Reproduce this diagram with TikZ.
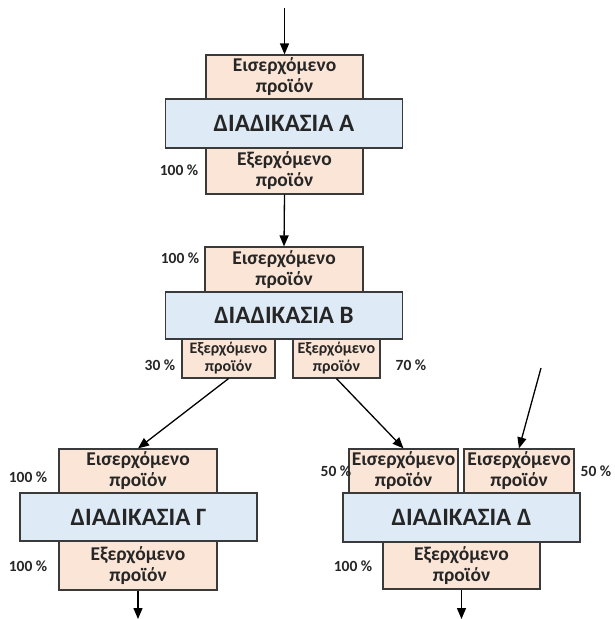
\documentclass[tikz,border=0pt]{standalone}
\usepackage{fontspec}
\setmainfont{Carlito}
\usetikzlibrary{arrows.meta}
\definecolor{peach}{HTML}{FBE5D6}
\definecolor{pale}{HTML}{DEEBF7}
\definecolor{edge}{HTML}{3A3A3A}
\begin{document}
\begin{tikzpicture}[x=1pt,y=-1pt,
  prod/.style={draw=edge,line width=1.2pt,fill=peach,inner sep=0pt,align=center,
    font=\bfseries\fontsize{19.5}{21}\selectfont,text=black!85},
  smallprod/.style={prod,font=\bfseries\fontsize{16}{18}\selectfont},
  proc/.style={draw=edge,line width=1.2pt,fill=pale,inner sep=0pt,
    minimum width=237pt,font=\bfseries\fontsize{25}{28}\selectfont,text=black!85},
  pct/.style={font=\bfseries\fontsize{15.5}{18}\selectfont,text=black!85,inner sep=0pt},
  flow/.style={line width=1.3pt,-{Triangle[length=11pt,width=9pt]}}]
\useasboundingbox (0,0) rectangle (614,619);
% Process A
\node[prod,minimum width=157pt,minimum height=44pt] (ain) at (284.5,77) {Εισερχόμενο\\προϊόν};
\node[prod,minimum width=157pt,minimum height=46pt] (aout) at (284.5,171) {Εξερχόμενο\\προϊόν};
\node[proc,minimum height=49pt] (A) at (284,123.5) {ΔΙΑΔΙΚΑΣΙΑ Α};
\node[pct] (pa) at (179,170) {100 \%};
% Process B
\node[prod,minimum width=158pt,minimum height=45pt] (bin) at (284,269.5) {Εισερχόμενο\\προϊόν};
\node[smallprod,minimum width=93pt,minimum height=39pt] (bout1) at (228.5,358.5) {Εξερχόμενο\\προϊόν};
\node[smallprod,minimum width=87pt,minimum height=39pt] (bout2) at (336.5,358.5) {Εξερχόμενο\\προϊόν};
\node[proc,minimum height=47pt] (B) at (284,315.5) {ΔΙΑΔΙΚΑΣΙΑ Β};
\node[pct] (pb) at (180,258) {100 \%};
\node[pct] (pb1) at (160,365) {30 \%};
\node[pct] (pb2) at (411,365) {70 \%};
% Process G
\node[prod,minimum width=158pt,minimum height=44pt] (gin) at (138,471) {Εισερχόμενο\\προϊόν};
\node[prod,minimum width=158pt,minimum height=49pt] (gout) at (138,565.5) {Εξερχόμενο\\προϊόν};
\node[proc,minimum height=48pt] (G) at (138.5,517) {ΔΙΑΔΙΚΑΣΙΑ Γ};
\node[pct] (pg1) at (28,477) {100 \%};
\node[pct] (pg2) at (28,566) {100 \%};
% Process D
\node[prod,minimum width=109pt,minimum height=44pt] (din1) at (403.5,471) {Εισερχόμενο\\προϊόν};
\node[prod,minimum width=110pt,minimum height=44pt] (din2) at (519,471) {Εισερχόμενο\\προϊόν};
\node[prod,minimum width=157pt,minimum height=47pt] (dout) at (461.5,565.5) {Εξερχόμενο\\προϊόν};
\node[proc,minimum height=49pt] (D) at (461.5,517.5) {ΔΙΑΔΙΚΑΣΙΑ Δ};
\node[pct] (pd1) at (336,471) {50 \%};
\node[pct] (pd2) at (596,471) {50 \%};
\node[pct] (pd3) at (353,566) {100 \%};
% connectors
\coordinate (top) at (284.5,8);
\coordinate (ext) at (541,368);
\coordinate (gend) at (138,619);
\coordinate (dend) at (461.5,619);
\draw[flow] (top) -- (ain.north);
\draw[flow] (aout.south) -- (bin.north);
\draw[flow] (bout1.south) -- (gin.north);
\draw[flow] (bout2.south) -- (din1.north);
\draw[flow] (ext) -- (din2.north);
\draw[flow] (gout.south) -- (gend);
\draw[flow] (dout.south) -- (dend);
\end{tikzpicture}
\end{document}
